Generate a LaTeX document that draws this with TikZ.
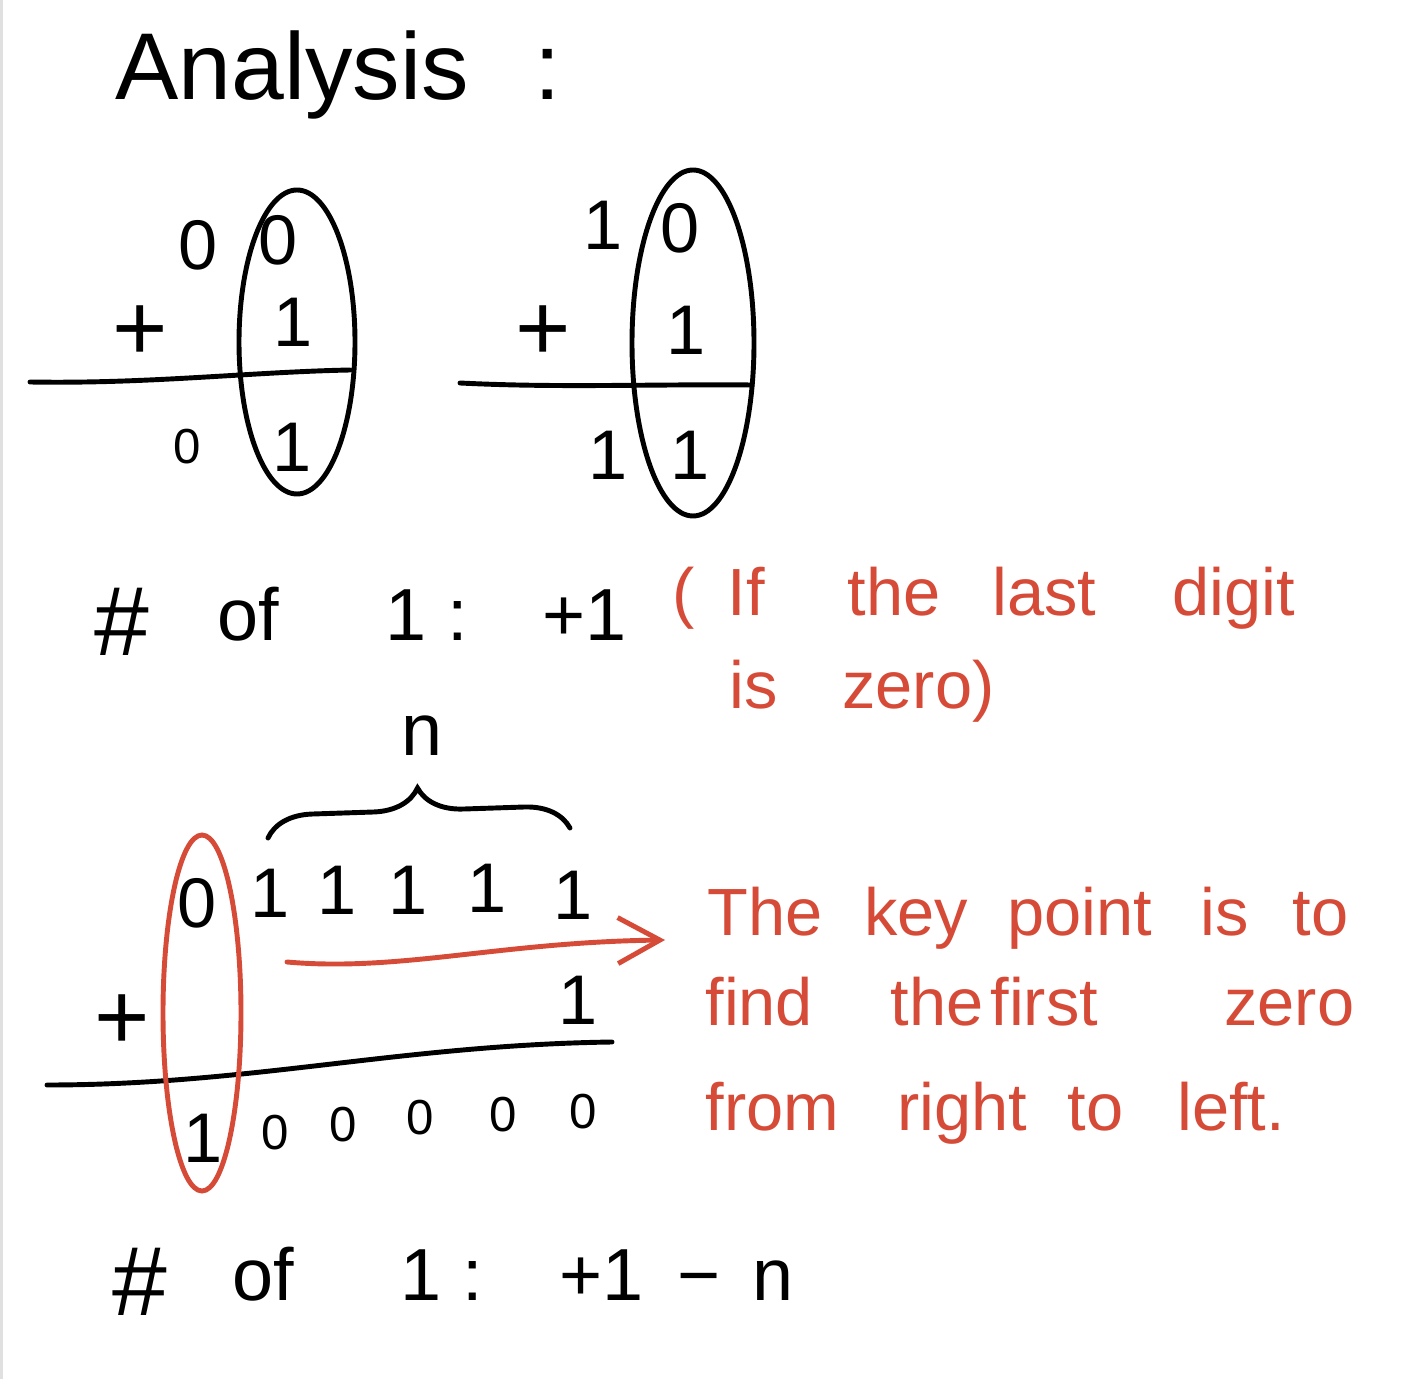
\documentclass[tikz,border=0pt]{standalone}
\usepackage{fontspec}
\setmainfont{Liberation Sans}
\usetikzlibrary{arrows.meta,decorations.pathreplacing}
\definecolor{penred}{HTML}{D64B37}
\begin{document}
\begin{tikzpicture}[x=0.1mm,y=-0.1mm,line width=1.4pt,line cap=round,
  dg/.style={inner sep=0pt,font=\fontsize{20}{24}\selectfont},
  pl/.style={inner sep=0pt,font=\fontsize{27}{32}\selectfont},
  sm/.style={inner sep=0pt,font=\fontsize{14}{17}\selectfont},
  wd/.style={inner sep=0pt,anchor=base west,font=\fontsize{21}{25}\selectfont},
  hs/.style={wd,font=\fontsize{28}{32}\selectfont},
  nt/.style={wd,text=penred,font=\fontsize{19}{23}\selectfont}]
\useasboundingbox (0,0) rectangle (1410,1379);
\fill[white] (0,0) rectangle (1410,1379);
\fill[black!12] (0,0) rectangle (3,1379);
% title
\node[wd,font=\fontsize{27}{32}\selectfont] (title) at (113,100) {Analysis};
\node[wd,font=\fontsize{27}{32}\selectfont] (tcolon) at (532,100) {:};
% first sum
\node[dg] (a1t1) at (198,245) {0};
\node[dg] (a1t2) at (278,240) {0};
\node[pl] (a1p) at (140,333) {+};
\node[dg] (a1b) at (293,322) {1};
\node[sm] (a1r1) at (187,447) {0};
\node[dg] (a1r2) at (292,447) {1};
\draw (30,382) .. controls (150,384) and (250,372) .. (350,370);
\draw (297,342) ellipse [x radius=58, y radius=152];
% second sum
\node[dg] (a2t1) at (603,225) {1};
\node[dg] (a2t2) at (680,228) {0};
\node[pl] (a2p) at (543,333) {+};
\node[dg] (a2b) at (686,330) {1};
\node[dg] (a2r1) at (608,455) {1};
\node[dg] (a2r2) at (690,455) {1};
\draw (460,383) .. controls (560,388) and (650,384) .. (752,385);
\draw (693,343) ellipse [x radius=61, y radius=173];
% count, first case
\node[hs] (h1) at (92,655) {\#};
\node[wd] (of1) at (215,640) {of};
\node[wd] (one1) at (383,640) {1};
\node[wd] (col1) at (445,640) {:};
\node[wd] (inc1) at (540,640) {+1};
\node[nt] (n1) at (670,615) {(};
\node[nt] (n2) at (725,615) {If};
\node[nt] (n3) at (845,615) {the};
\node[nt] (n4) at (990,615) {last};
\node[nt] (n5) at (1170,615) {digit};
\node[nt] (n6) at (727,708) {is};
\node[nt] (n7) at (840,708) {zero)};
% third sum
\node[wd,anchor=base] (nlab) at (422,755) {n};
\draw[decorate,decoration={brace,amplitude=4.5mm}] (268,838) -- (570,828);
\node[dg] (c0) at (197,903) {0};
\foreach \x/\y [count=\i] in {270/893,337/890,408/890,487/888,573/895}
  \node[dg] (c1\i) at (\x,\y) {1};
\node[pl] (cp) at (122,1022) {+};
\node[dg] (cb) at (578,1000) {1};
\node[dg] (cr) at (203,1138) {1};
\foreach \x/\y [count=\i] in {275/1133,343/1125,420/1118,503/1115,583/1112}
  \node[sm] (cz\i) at (\x,\y) {0};
\draw (47,1085) .. controls (250,1085) and (400,1045) .. (612,1042);
\draw[penred] (202,1013) ellipse [x radius=39, y radius=178];
\coordinate (arrS) at (287,962);
\coordinate (arrE) at (665,940);
\draw[penred,-{Straight Barb[length=4.2mm,width=4.6mm]}] (arrS) .. controls (400,972) and (500,942) .. (arrE);
% note
\node[nt] (k1) at (705,935) {The};
\node[nt] (k2) at (862,935) {key};
\node[nt] (k3) at (1005,935) {point};
\node[nt] (k4) at (1198,935) {is};
\node[nt] (k5) at (1290,935) {to};
\node[nt] (k6) at (703,1025) {find};
\node[nt] (k7) at (888,1025) {the};
\node[nt] (k8) at (988,1025) {first};
\node[nt] (k9) at (1222,1025) {zero};
\node[nt] (k10) at (703,1130) {from};
\node[nt] (k11) at (895,1130) {right};
\node[nt] (k12) at (1065,1130) {to};
\node[nt] (k13) at (1175,1130) {left.};
% count, second case
\node[hs] (h2) at (110,1315) {\#};
\node[wd] (of2) at (230,1300) {of};
\node[wd] (one2) at (398,1300) {1};
\node[wd] (col2) at (460,1300) {:};
\node[wd] (inc2) at (557,1300) {+1};
\node[wd] (dec2) at (675,1300) {−};
\node[wd] (n2b) at (750,1300) {n};
\end{tikzpicture}
\end{document}
